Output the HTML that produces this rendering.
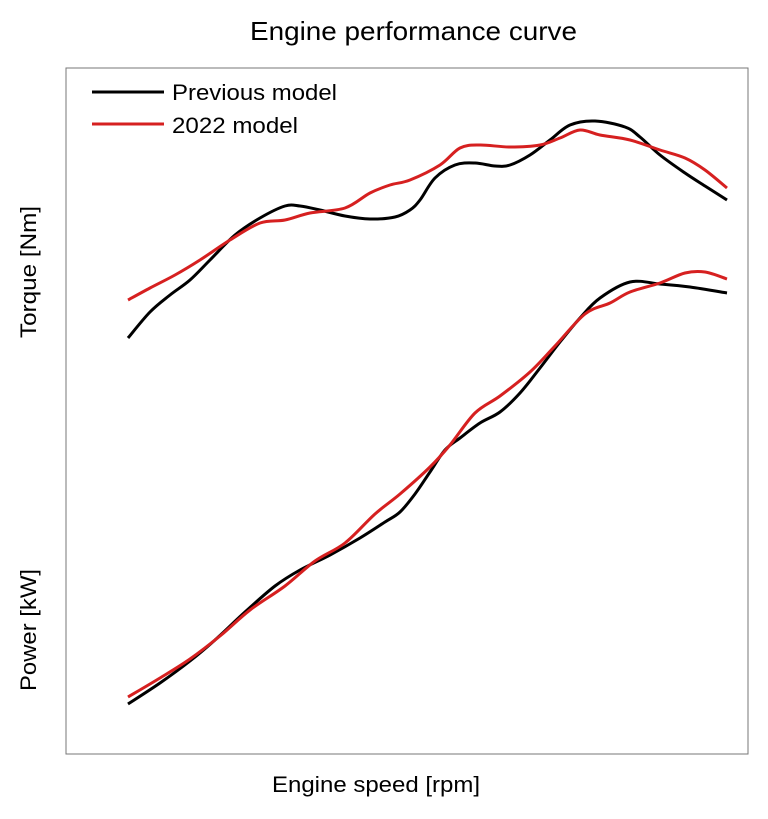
<!DOCTYPE html>
<html><head><meta charset="utf-8"><style>
body{margin:0;background:#fff;width:768px;height:814px;overflow:hidden;font-family:"Liberation Sans",sans-serif}
</style></head><body>
<svg id="chart" width="768" height="814">
<text x="250" y="40" font-size="26" textLength="327" lengthAdjust="spacingAndGlyphs" fill="#000">Engine performance curve</text>
<rect x="66" y="68" width="682" height="686" fill="none" stroke="#777" stroke-width="1"/>
<text x="272" y="792" font-size="22" textLength="208" lengthAdjust="spacingAndGlyphs">Engine speed [rpm]</text>
<text transform="translate(36,338) rotate(-90)" font-size="22" textLength="132" lengthAdjust="spacingAndGlyphs">Torque [Nm]</text>
<text transform="translate(36,691) rotate(-90)" font-size="22" textLength="122" lengthAdjust="spacingAndGlyphs">Power [kW]</text>
<g>
<line x1="92" y1="92" x2="164" y2="92" stroke="#000" stroke-width="3"/>
<text x="172" y="100" font-size="22" textLength="165" lengthAdjust="spacingAndGlyphs">Previous model</text>
<line x1="92" y1="124" x2="164" y2="124" stroke="#d62020" stroke-width="3"/>
<text x="172" y="133" font-size="22" textLength="126" lengthAdjust="spacingAndGlyphs">2022 model</text>
</g>
<g id="series"></g>
</svg>
<script>
// speed in arbitrary units (0..599), values in arbitrary units (0..686)
const prevTorqueSpeed=[0,22,42,62,82,107,132,157,172,192,217,242,267,282,292,307,327,347,367,382,402,422,442,467,497,512,532,557,577,599];
const prevTorque=[416,442,459,474,494,519,536,548,548,544,538,535,537,544,554,576,589,591,588,589,599,614,629,633,627,617,599,581,568,554];
const newTorqueSpeed=[0,22,47,72,102,132,157,182,217,242,262,282,312,332,352,382,412,432,452,472,502,532,557,577,599];
const newTorque=[454,466,479,494,514,531,534,541,546,561,569,574,589,606,609,607,609,616,624,619,614,604,596,584,566];
const prevPowerSpeed=[0,32,62,87,117,147,172,202,232,257,272,287,302,317,332,352,372,392,412,432,452,472,502,532,562,599];
const prevPower=[50,71,93,114,142,168,184,199,216,232,242,260,282,304,316,331,342,361,386,412,436,456,472,470,467,461];
const newPowerSpeed=[0,32,62,92,122,157,187,217,247,272,302,322,347,372,402,427,457,482,502,532,557,577,599];
const newPower=[57,76,95,118,144,168,193,211,240,260,287,309,341,358,382,408,440,451,462,471,481,482,475];
const xS=v=>128+v*(727-128)/599;
const yS=v=>754-v;
function path(xs,ys){
  const p=xs.map((x,i)=>[xS(x),yS(ys[i])]);
  let d=`M${p[0][0]},${p[0][1]}`;
  for(let i=0;i<p.length-1;i++){
    const p0=p[i-1]||p[i],p1=p[i],p2=p[i+1],p3=p[i+2]||p2;
    d+=` C${p1[0]+(p2[0]-p0[0])/6},${p1[1]+(p2[1]-p0[1])/6} ${p2[0]-(p3[0]-p1[0])/6},${p2[1]-(p3[1]-p1[1])/6} ${p2[0]},${p2[1]}`;
  }
  return d;
}
const g=document.getElementById('series');
function add(xs,ys,color,name){
  const el=document.createElementNS('http://www.w3.org/2000/svg','path');
  el.setAttribute('d',path(xs,ys));
  el.setAttribute('fill','none');
  el.setAttribute('stroke',color);
  el.setAttribute('stroke-width','3');
  
  
  g.appendChild(el);
}
add(prevTorqueSpeed,prevTorque,'#000','previous-torque-line');
add(newTorqueSpeed,newTorque,'#d62020','2022-torque-line');
add(prevPowerSpeed,prevPower,'#000','previous-power-line');
add(newPowerSpeed,newPower,'#d62020','2022-power-line');
</script>
</body></html>
